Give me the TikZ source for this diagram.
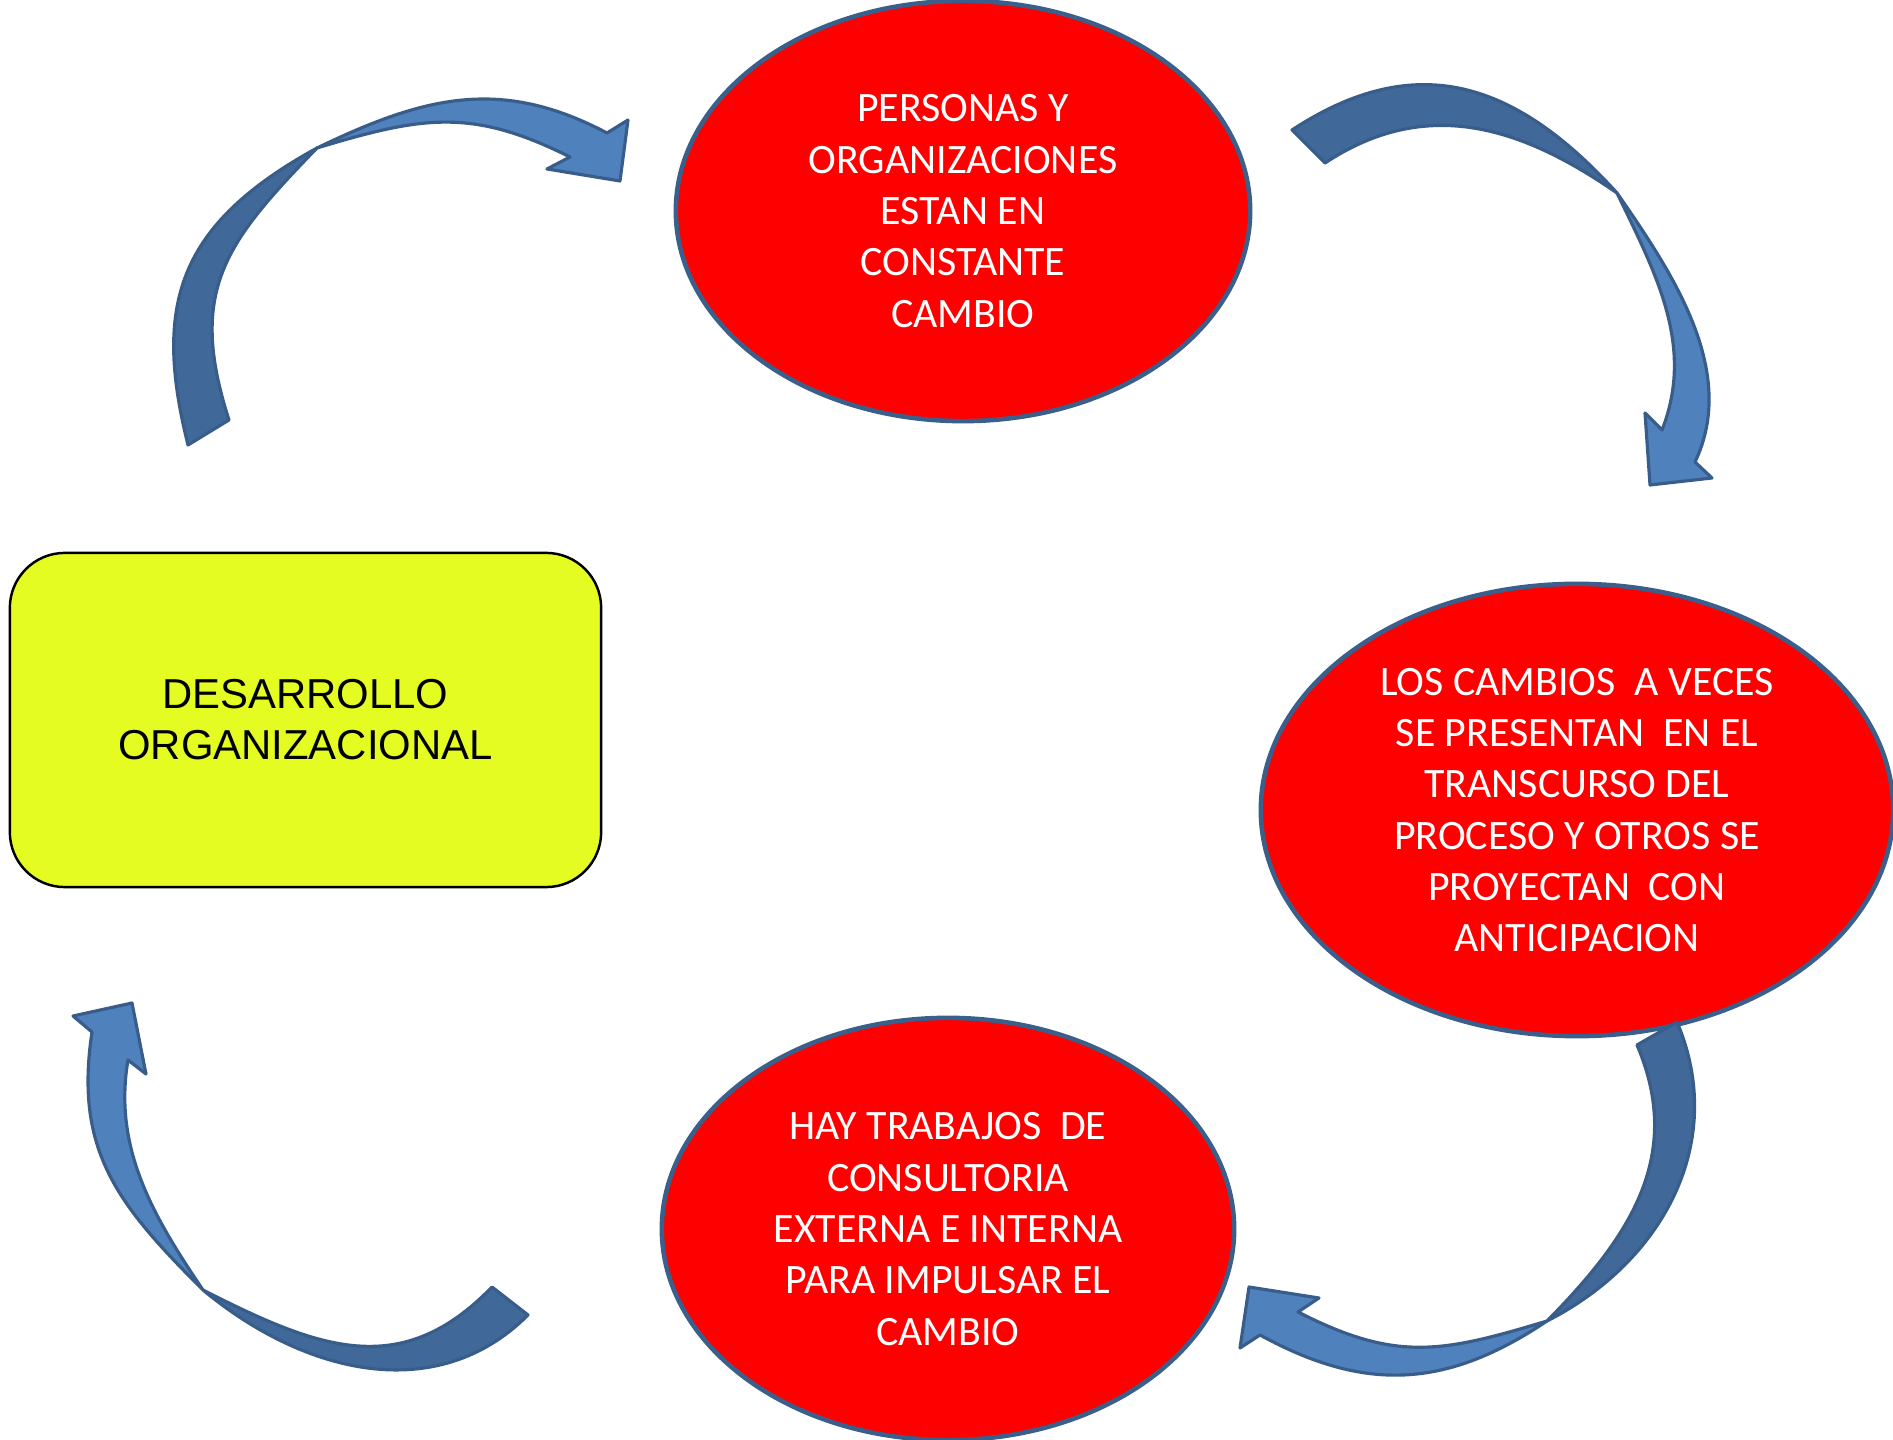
\documentclass[tikz,border=0pt]{standalone}
\usepackage{fontspec}
\newfontfamily\bubblefont{Carlito}
\newfontfamily\boxfont{Liberation Sans}
\usetikzlibrary{shapes.geometric}
\definecolor{bubblered}{RGB}{255,0,0}
\definecolor{bubbleedge}{RGB}{58,95,139}
\definecolor{boxyellow}{RGB}{229,252,34}
\definecolor{arrowfront}{RGB}{79,129,189}
\definecolor{arrowback}{RGB}{64,104,152}
\definecolor{arrowedge}{RGB}{56,93,138}
\begin{document}
\begin{tikzpicture}[x=0.01cm,y=-0.01cm,
  bubble/.style={ellipse, fill=bubblered, draw=bubbleedge, line width=1.3pt,
    inner sep=0pt, align=center, text=white,
    font={\bubblefont\fontsize{11.9}{14.6}\selectfont}},
  titlebox/.style={rectangle, rounded corners=0.55cm, fill=boxyellow, draw=black,
    line width=0.7pt, inner sep=0pt, align=center, text=black,
    minimum width=5.91cm, minimum height=3.34cm,
    font={\boxfont\fontsize{11.9}{14.5}\selectfont}},
  bandback/.style={fill=arrowback, draw=arrowedge, line width=0.9pt, line join=round},
  bandfront/.style={fill=arrowfront, draw=arrowedge, line width=0.9pt, line join=round}]
\useasboundingbox (0,0) rectangle (1893,1440);

% the four statements of the cycle
\node[bubble, minimum width=5.74cm, minimum height=4.2cm] (personas) at (963,211)
  {PERSONAS Y\\ORGANIZACIONES\\ESTAN EN\\CONSTANTE\\CAMBIO};
\node[bubble, minimum width=6.32cm, minimum height=4.52cm] (cambios) at (1577,810)
  {LOS CAMBIOS\ \ A VECES\\SE PRESENTAN\ \ EN EL\\TRANSCURSO DEL\\PROCESO Y OTROS SE\\PROYECTAN\ \ CON\\ANTICIPACION};
\node[bubble, minimum width=5.72cm, minimum height=4.22cm] (consultoria) at (948,1229)
  {HAY TRABAJOS\ \ DE\\CONSULTORIA\\EXTERNA E INTERNA\\PARA IMPULSAR EL\\CAMBIO};
\node[titlebox] (desarrollo) at (305.5,720) {DESARROLLO\\ORGANIZACIONAL};

% curved block arrow: desarrollo -> personas
\filldraw[bandback] (188,445) .. controls (153,305) and (177,225) .. (317,148)
  .. controls (226,242) and (187,290) .. (229,420) -- cycle;
\filldraw[bandfront] (317,148) .. controls (425,96) and (501,77) .. (607,133)
  -- (628,120) -- (620,181) -- (547,169) -- (570,157)
  .. controls (472,108) and (423,116) .. (317,148) -- cycle;

% curved block arrow: personas -> cambios
\filldraw[bandback] (1292,130) .. controls (1417,48) and (1516,82) .. (1617,193)
  .. controls (1519,125) and (1425,97) .. (1325,163) -- cycle;
\filldraw[bandfront] (1617,193) .. controls (1674,275) and (1738,372) .. (1695,462)
  -- (1712,478) -- (1650,485) -- (1645,413) -- (1662,430)
  .. controls (1695,346) and (1656,274) .. (1617,193) -- cycle;

% curved block arrow: cambios -> consultoria
\filldraw[bandback] (1677,1022) .. controls (1728,1142) and (1663,1262) .. (1547,1321)
  .. controls (1631,1236) and (1684,1155) .. (1637,1045) -- cycle;
\filldraw[bandfront] (1547,1321) .. controls (1447,1388) and (1366,1393) .. (1260,1335)
  -- (1240,1348) -- (1249,1287) -- (1319,1298) -- (1298,1312)
  .. controls (1396,1362) and (1441,1353) .. (1547,1321) -- cycle;

% curved block arrow: consultoria -> desarrollo
\filldraw[bandback] (528,1315) .. controls (436,1407) and (303,1373) .. (203,1290)
  .. controls (319,1349) and (401,1381) .. (492,1287) -- cycle;
\filldraw[bandfront] (203,1290) .. controls (118,1205) and (74,1151) .. (92,1032)
  -- (73,1016) -- (132,1003) -- (146,1074) -- (128,1060)
  .. controls (113,1148) and (153,1216) .. (203,1290) -- cycle;
\end{tikzpicture}
\end{document}
